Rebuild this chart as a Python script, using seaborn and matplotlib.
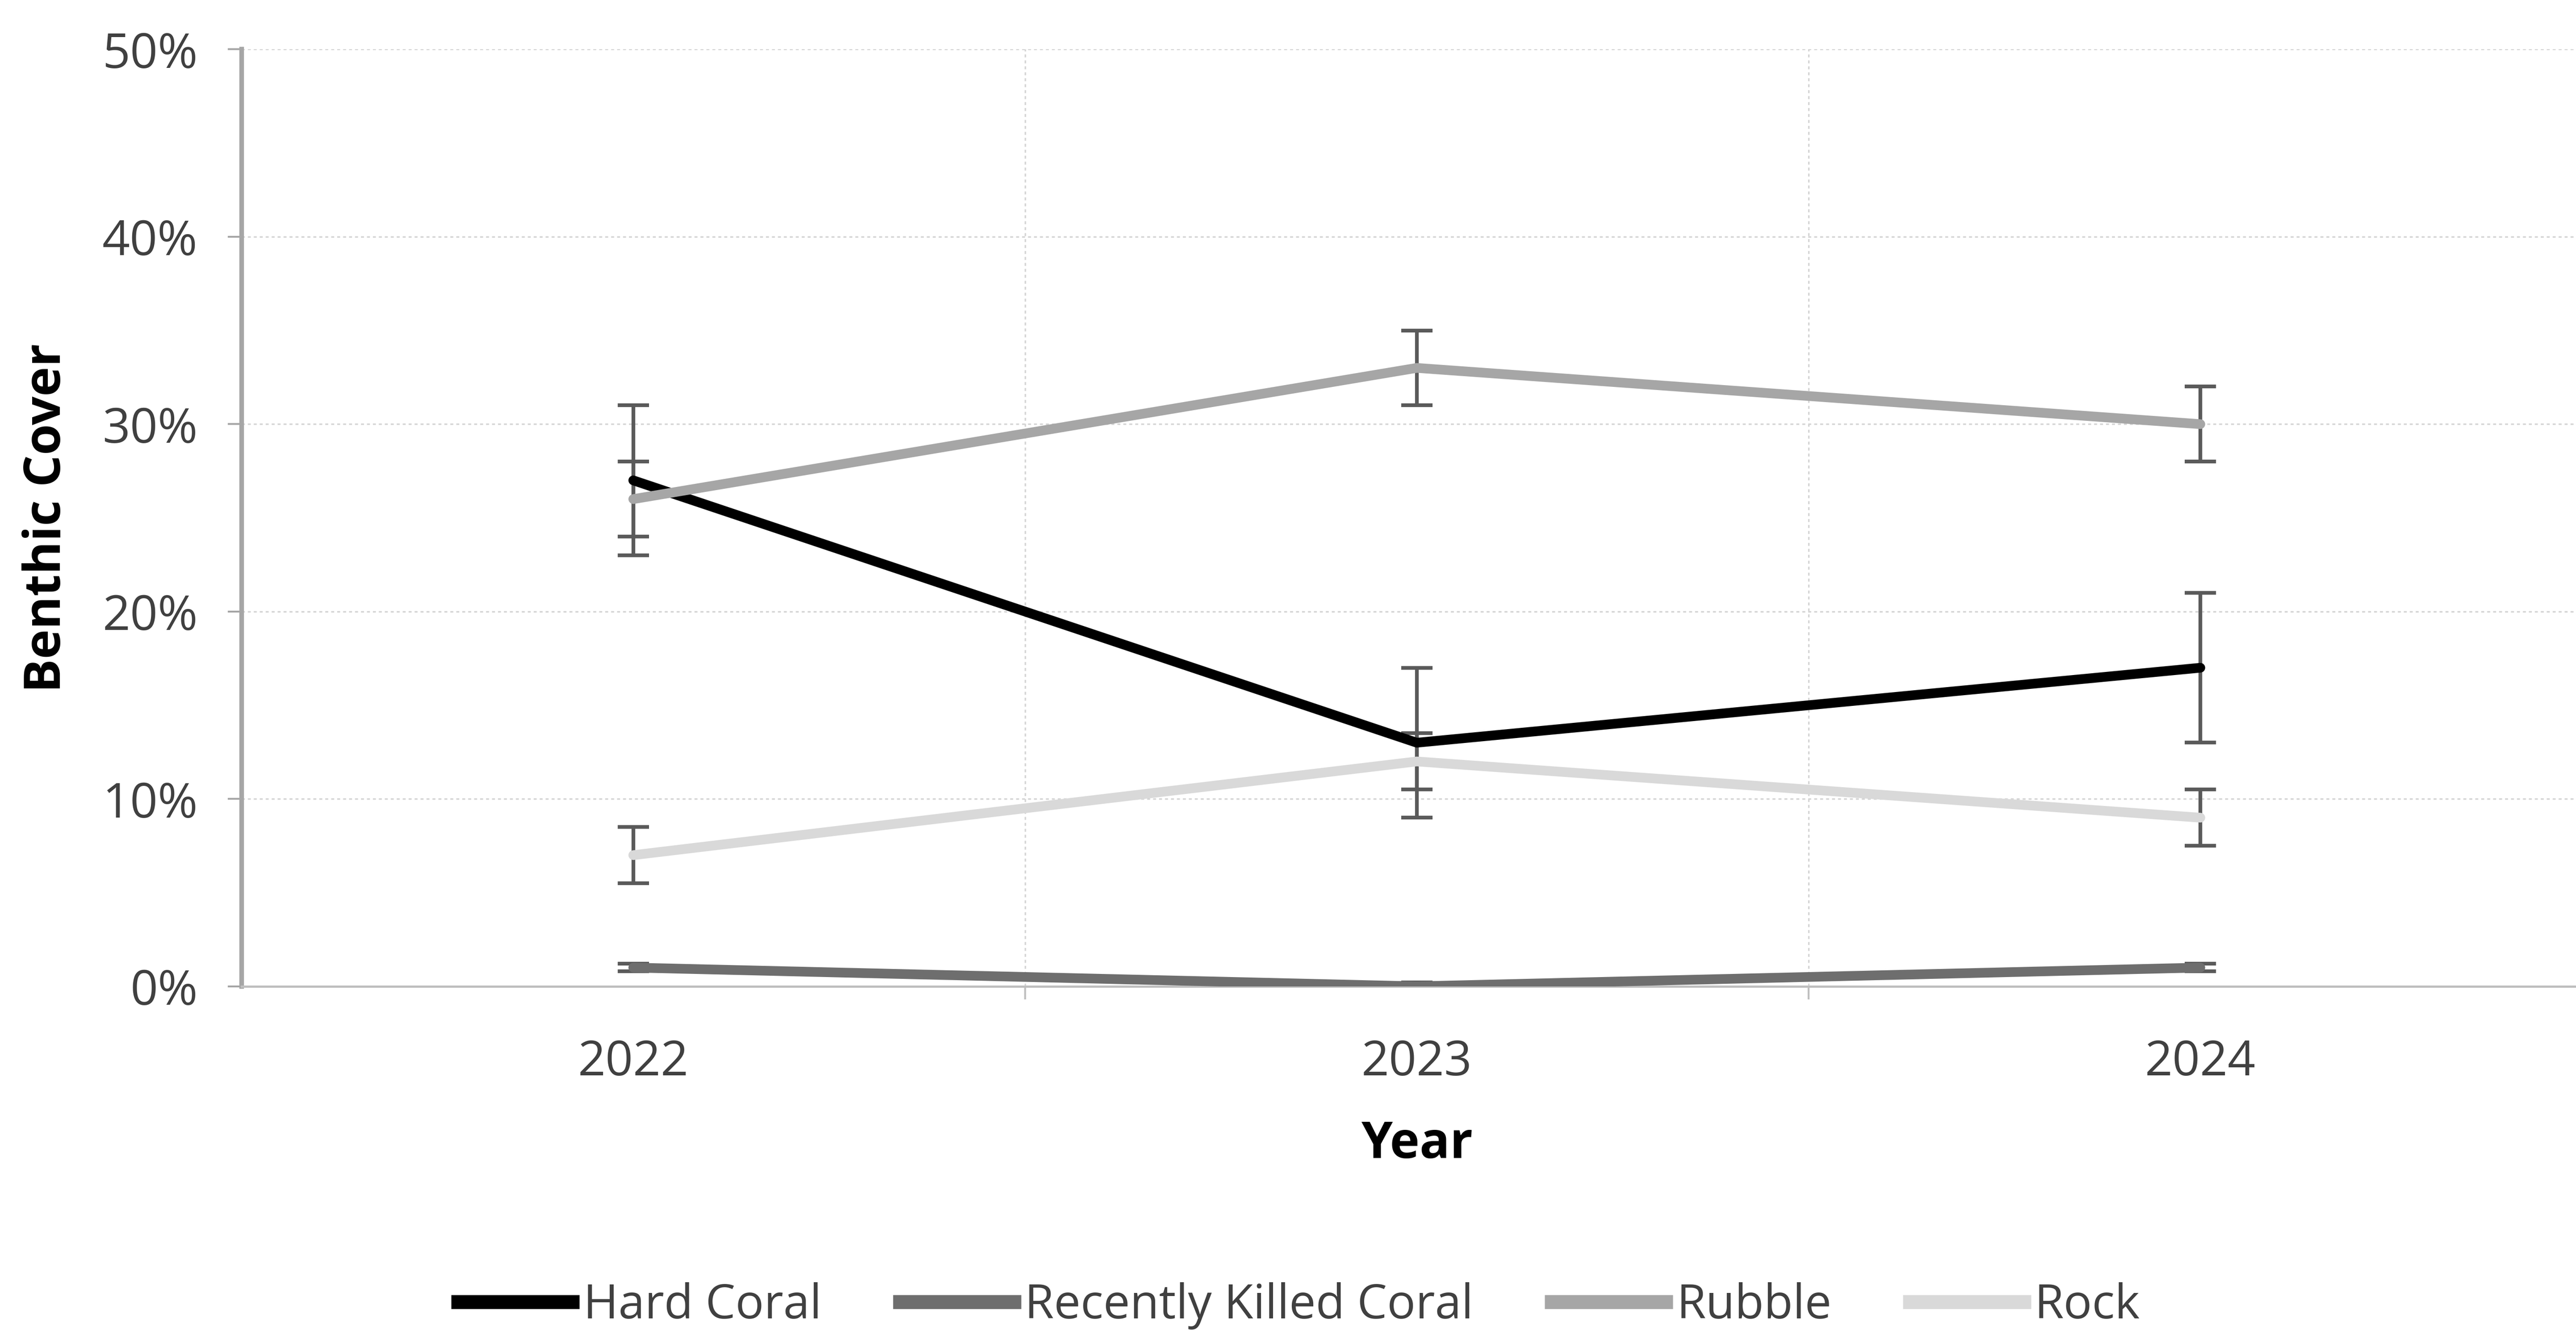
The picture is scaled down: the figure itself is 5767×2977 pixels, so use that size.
import numpy as np
import pandas as pd
import matplotlib
matplotlib.use("Agg")
import matplotlib.pyplot as plt
from matplotlib.ticker import PercentFormatter, FixedLocator
import seaborn as sns

# Benthic cover by category and survey year (percent, with standard error)
years = ["2022", "2023", "2024"]
categories = ["Hard Coral", "Recently Killed Coral", "Rubble", "Rock"]
hard_coral = [27, 13, 17]
hard_coral_err = [4, 4, 4]
recently_killed = [1, 0, 1]
recently_killed_err = [0.2, 0.2, 0.2]
rubble = [26, 33, 30]
rubble_err = [2, 2, 2]
rock = [7, 12, 9]
rock_err = [1.5, 1.5, 1.5]
y_ticks = [0, 10, 20, 30, 40, 50]

colors = ["#000000", "#6e6e6e", "#a6a6a6", "#d9d9d9"]

values = [hard_coral, recently_killed, rubble, rock]
errors = [hard_coral_err, recently_killed_err, rubble_err, rock_err]

rows = []
for cat, vals, errs in zip(categories, values, errors):
    for i, (yr, v, e) in enumerate(zip(years, vals, errs)):
        rows.append({"Year": yr, "pos": i, "Category": cat, "Cover": v, "Err": e})
df = pd.DataFrame(rows)

sns.set_theme(style="white")
plt.rcParams["font.family"] = ["Open Sans", "DejaVu Sans"]

fig = plt.figure(figsize=(5767 / 300, 2977 / 300), dpi=300)
ax = fig.add_axes([0.09375, 0.2584, 0.9125, 0.7045])

# Error bars beneath the lines
for cat in categories:
    sub = df[df["Category"] == cat]
    ax.errorbar(sub["pos"], sub["Cover"], yerr=sub["Err"], fmt="none",
                ecolor="#5a5a5a", elinewidth=2.0, capsize=8.5, capthick=2.0,
                zorder=2)

sns.lineplot(data=df, x="pos", y="Cover", hue="Category", hue_order=categories,
             palette=colors, linewidth=5.2, ax=ax, sort=False, estimator=None,
             zorder=3)

ax.set_xlim(-0.5, 2.5)
ax.set_ylim(0, 50)

# Axis ticks and formatting
ax.xaxis.set_major_locator(FixedLocator(range(len(years))))
ax.set_xticklabels(years)
ax.xaxis.set_minor_locator(FixedLocator([0.5, 1.5, 2.5]))
ax.tick_params(axis="x", which="major", length=0, pad=28, labelsize=26,
               labelcolor="#404040")
ax.tick_params(axis="x", which="minor", length=7, width=1.0, color="#bfbfbf",
               direction="out", bottom=True)
ax.set_yticks(y_ticks)
ax.yaxis.set_major_formatter(PercentFormatter(decimals=0))
ax.tick_params(axis="y", which="major", length=7.5, width=1.0, color="#a6a6a6",
               direction="out", left=True, pad=16, labelsize=26,
               labelcolor="#404040")

# Dotted gridlines
ax.grid(False)
for yv in y_ticks[1:]:
    ax.axhline(yv, color="#d4d4d4", lw=0.8, ls=(0, (2, 2)), zorder=0)
for xv in [0.5, 1.5]:
    ax.axvline(xv, color="#d4d4d4", lw=0.8, ls=(0, (2, 2)), zorder=0)

for side in ["top", "right"]:
    ax.spines[side].set_visible(False)
ax.spines["left"].set_color("#a6a6a6")
ax.spines["left"].set_linewidth(2.5)
ax.spines["bottom"].set_color("#bfbfbf")
ax.spines["bottom"].set_linewidth(1.2)

ax.set_xlabel("Year", fontsize=27, fontweight="bold", color="#000000")
ax.set_ylabel("Benthic Cover", fontsize=27, fontweight="bold", color="#000000")
ax.xaxis.set_label_coords(0.5, -0.142)
ax.yaxis.set_label_coords(-0.072, 0.5)

# Legend along the bottom
handles, labels = ax.get_legend_handles_labels()
if ax.get_legend() is not None:
    ax.get_legend().remove()
for h in handles:
    h.set_linewidth(7.5)
    h.set_solid_capstyle("butt")
fig.legend(handles, labels, loc="center", bbox_to_anchor=(0.503, 0.018),
           ncol=4, frameon=False, fontsize=25.5, handlelength=2.7,
           handletextpad=0.08, columnspacing=1.5, labelcolor="#404040")

fig.savefig("out.png", dpi=300, facecolor="white")
